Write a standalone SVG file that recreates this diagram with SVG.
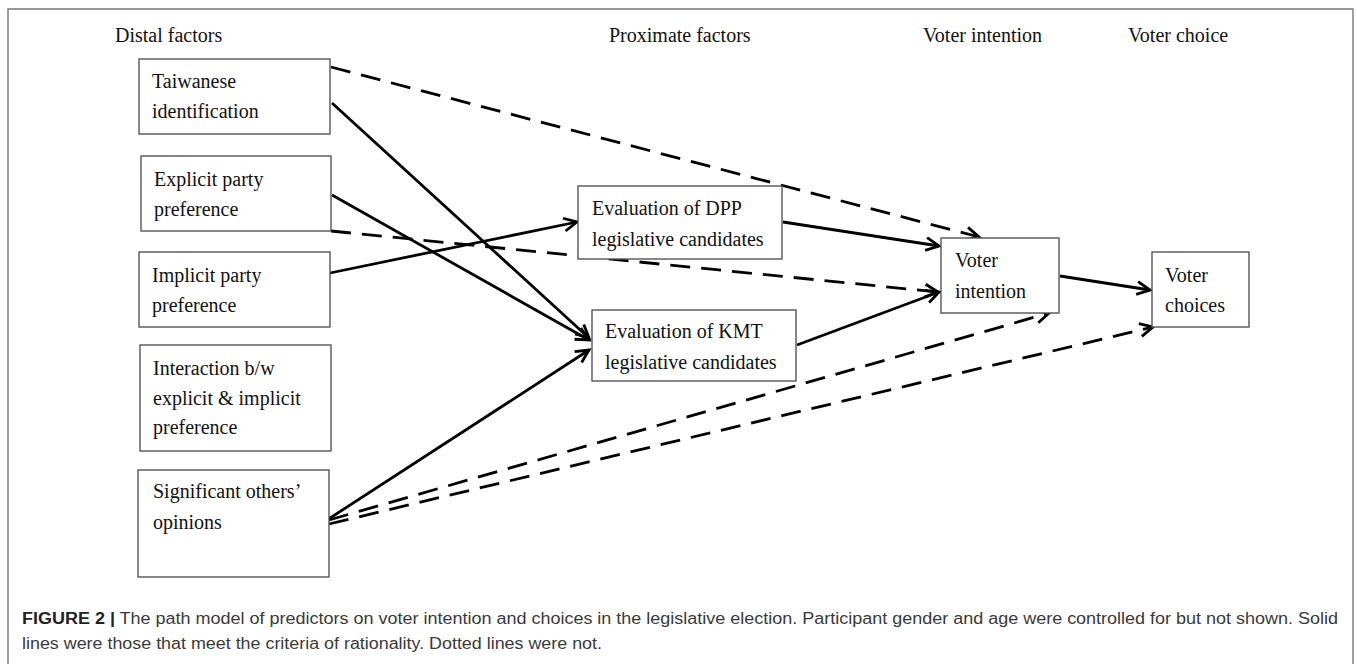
<svg xmlns="http://www.w3.org/2000/svg" width="1357" height="664" viewBox="0 0 1357 664">
<style>
.bg{fill:#fff}
.frame{fill:none;stroke:#777;stroke-width:1.4}
.box{fill:#fff;stroke:#555;stroke-width:1.4}
.t{font-family:"Liberation Serif","Times New Roman",serif;font-size:20px;fill:#111}
.solid{fill:none;stroke:#000;stroke-width:2.8;marker-end:url(#arr)}
.dash{fill:none;stroke:#000;stroke-width:2.8;stroke-dasharray:20 11;marker-end:url(#arr)}
.cap{font-family:"Liberation Sans",Arial,sans-serif;font-size:16px;fill:#3a3a3a}
.capb{font-weight:bold;fill:#222}
</style>
<defs>
<marker id="arr" viewBox="-16 -10 20 20" refX="0" refY="0" markerWidth="20" markerHeight="20" markerUnits="userSpaceOnUse" orient="auto">
<path d="M-13,-6.5 L0,0 L-13,6.5" fill="none" stroke="#000" stroke-width="2.8" stroke-dasharray="none"/>
</marker>
</defs>
<rect class="bg" x="0" y="0" width="1357" height="664"/>
<path class="frame" d="M8,664 V9 H1353 V664"/>
<g id="headers">
<text class="t" x="115" y="42">Distal factors</text>
<text class="t" x="609" y="42">Proximate factors</text>
<text class="t" x="923" y="42">Voter intention</text>
<text class="t" x="1128" y="42">Voter choice</text>
</g>
<g id="connectors">
<line class="dash" x1="331" y1="67" x2="979" y2="237"/>
<line class="dash" x1="331" y1="231" x2="938" y2="292"/>
<line class="dash" x1="329" y1="520" x2="1049" y2="313"/>
<line class="dash" x1="329" y1="524" x2="1153" y2="327"/>
<line class="solid" x1="332" y1="103" x2="589" y2="338"/>
<line class="solid" x1="332" y1="195" x2="589" y2="340"/>
<line class="solid" x1="330" y1="273" x2="577" y2="222"/>
<line class="solid" x1="327" y1="520" x2="589" y2="350"/>
<line class="solid" x1="783" y1="222" x2="939" y2="246"/>
<line class="solid" x1="797" y1="345" x2="939" y2="292"/>
<line class="solid" x1="1060" y1="276" x2="1150" y2="290"/>
</g>
<g id="taiwanese">
<rect class="box" x="139" y="59" width="191" height="75"/>
<text class="t" x="152" y="88">Taiwanese</text>
<text class="t" x="152" y="118">identification</text>
</g>
<g id="explicit">
<rect class="box" x="141" y="156" width="190" height="75"/>
<text class="t" x="154" y="186">Explicit party</text>
<text class="t" x="154" y="216">preference</text>
</g>
<g id="implicit">
<rect class="box" x="139" y="252" width="191" height="75"/>
<text class="t" x="152" y="282">Implicit party</text>
<text class="t" x="152" y="312">preference</text>
</g>
<g id="interaction">
<rect class="box" x="140" y="345" width="191" height="106"/>
<text class="t" x="153" y="375">Interaction b/w</text>
<text class="t" x="153" y="405">explicit &amp; implicit</text>
<text class="t" x="153" y="434">preference</text>
</g>
<g id="significant">
<rect class="box" x="138" y="470" width="191" height="107"/>
<text class="t" x="153" y="498">Significant others’</text>
<text class="t" x="153" y="529">opinions</text>
</g>
<g id="dpp">
<rect class="box" x="578" y="186" width="204" height="73"/>
<text class="t" x="592" y="215">Evaluation of DPP</text>
<text class="t" x="592" y="246">legislative candidates</text>
</g>
<g id="kmt">
<rect class="box" x="592" y="310" width="204" height="71"/>
<text class="t" x="605" y="338">Evaluation of KMT</text>
<text class="t" x="605" y="369">legislative candidates</text>
</g>
<g id="voter-intention">
<rect class="box" x="941" y="238" width="118" height="75"/>
<text class="t" x="955" y="267">Voter</text>
<text class="t" x="955" y="298">intention</text>
</g>
<g id="voter-choices">
<rect class="box" x="1152" y="252" width="97" height="75"/>
<text class="t" x="1165" y="282">Voter</text>
<text class="t" x="1165" y="312">choices</text>
</g>
<g id="caption">
<text class="cap" x="22" y="624" textLength="1316" lengthAdjust="spacingAndGlyphs"><tspan class="capb">FIGURE 2 |</tspan> The path model of predictors on voter intention and choices in the legislative election. Participant gender and age were controlled for but not shown. Solid</text>
<text class="cap" x="22" y="649" textLength="580" lengthAdjust="spacingAndGlyphs">lines were those that meet the criteria of rationality. Dotted lines were not.</text>
</g>
</svg>
